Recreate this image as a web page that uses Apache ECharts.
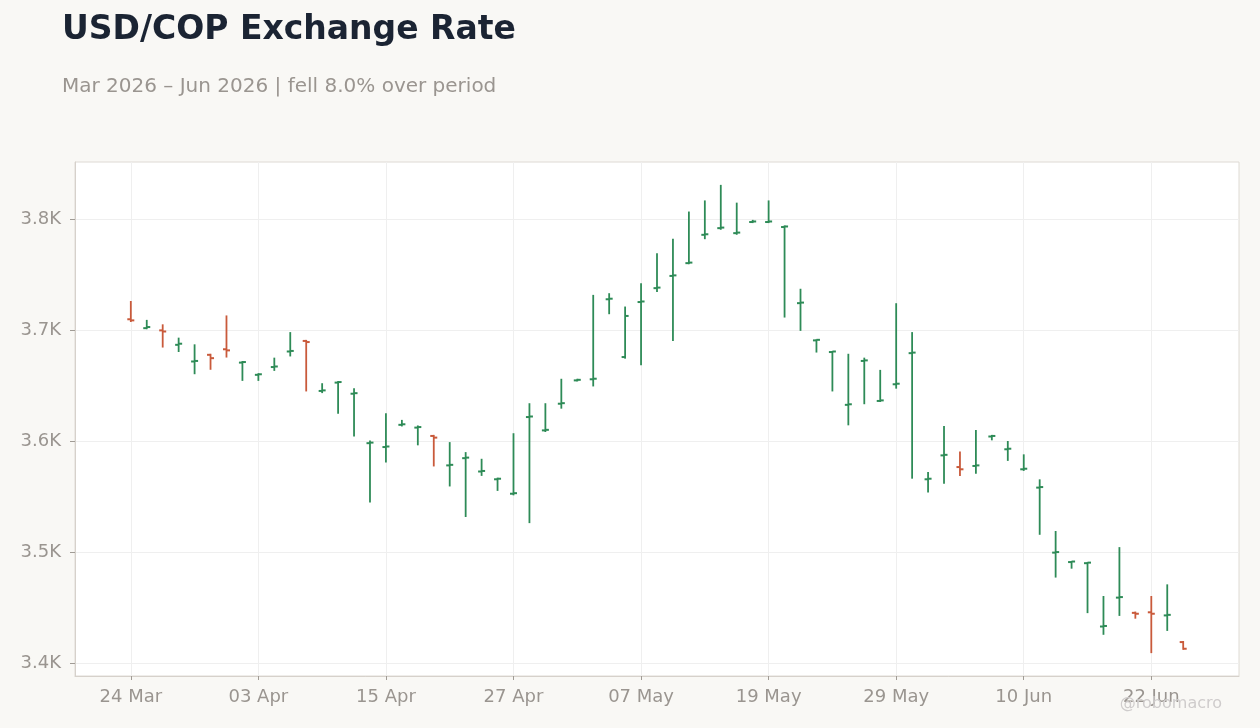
<!DOCTYPE html>
<html><head><meta charset="utf-8">
<script src="https://cdn.jsdelivr.net/npm/echarts@6/dist/echarts.min.js"></script>
<style>html,body{margin:0;padding:0;background:#f9f8f5;}#c{width:1260px;height:728px;}</style>
</head><body><div id="c"></div>
<script>
const dates = ['24 Mar','25 Mar','26 Mar','27 Mar','30 Mar','31 Mar',
 '01 Apr','02 Apr','03 Apr','06 Apr','07 Apr','08 Apr','09 Apr','10 Apr','13 Apr','14 Apr','15 Apr','16 Apr','17 Apr','20 Apr','21 Apr','22 Apr','23 Apr','24 Apr','27 Apr','28 Apr','29 Apr','30 Apr',
 '01 May','04 May','05 May','06 May','07 May','08 May','11 May','12 May','13 May','14 May','15 May','18 May','19 May','20 May','21 May','22 May','25 May','26 May','27 May','28 May','29 May',
 '01 Jun','02 Jun','03 Jun','04 Jun','05 Jun','08 Jun','09 Jun','10 Jun','11 Jun','12 Jun','15 Jun','16 Jun','17 Jun','18 Jun','19 Jun','22 Jun','23 Jun','24 Jun'];
const open  = [3710,3702,3700,3687,3672,3678,3683,3671,3660,3667,3681,3690.5,3645.5,3653,3643,3598.5,3595,3615,3612.5,3605,3578.5,3585,3573,3566,3553,3622,3610,3634,3655,3656,3728,3676,3725.5,3738,3749,3760.5,3786,3792,3787.5,3797.5,3797.5,3793,3724.5,3691,3680.5,3633,3672.5,3636.5,3651.5,3679.5,3566,3587.5,3577,3578,3604.5,3593,3575,3558.5,3500,3491.5,3490.5,3433.5,3459.5,3445.8,3446.3,3443.5,3419.5];
const high  = [3726,3709,3705,3693,3687,3678.5,3713,3672,3661,3675,3698,3691,3652,3654,3647.5,3600.5,3625,3619,3614,3605.5,3599,3590,3584,3567,3607,3634,3634,3656,3656,3731.5,3733,3721,3742,3769,3782,3806.5,3816.5,3830.5,3814.5,3799,3816.5,3794,3737,3691.5,3681,3678.5,3675,3664,3724,3698,3572,3613.5,3590.5,3610,3605.5,3600,3588,3565.5,3519,3492,3491,3460.5,3504.5,3446.5,3460.5,3471,3420];
const low   = [3708,3701.5,3685,3681,3661,3665,3676,3655,3655,3664,3677,3645.5,3644,3625.5,3605,3545.5,3581.5,3614,3597,3578,3560,3532.5,3569.5,3556,3552,3527,3609,3630,3654.5,3650,3715,3675,3669,3735,3691,3760,3782.5,3791,3786.5,3797,3797,3712,3700,3680.5,3645.5,3615,3634,3636,3648,3567,3554.5,3562.5,3569.5,3571.5,3601.5,3583,3574,3516.5,3478,3486,3446,3426.5,3443.5,3441,3410,3430,3413];
const close = [3709,3703,3699,3688,3672.5,3675,3682,3671.5,3660.5,3667.5,3681.5,3689.5,3646,3653.5,3643.5,3599,3595.5,3615.5,3613,3603.5,3579,3585.5,3573.5,3566.5,3553.5,3622.5,3610.5,3634.5,3655.5,3656.5,3728.5,3713,3726,3738.5,3749.5,3761,3786.5,3792.5,3788,3798,3798,3793.5,3725,3691.5,3681,3633.5,3673,3637,3652,3680,3566.5,3588,3575,3578.5,3605,3593.5,3575.5,3559,3500.5,3492,3491,3434,3460,3445,3445,3444,3413.5];
const yTicks = [3400, 3500, 3600, 3700, 3800];

const GREEN = '#2e8b57', RED = '#c95a3b';
const PAD = 3;
const padL = ['_p1','_p2','_p3'], padR = ['_q1','_q2','_q3'];
const cats = padL.concat(dates, padR);
const showIdx = (i) => i >= PAD && i < PAD + dates.length && (i - PAD) % 8 === 0;

const lo = Math.min(...low), hi = Math.max(...high);
const yPad = (hi - lo) * 0.05;

const seriesData = dates.map((d, i) => [d, open[i], close[i], low[i], high[i]]);

const chart = echarts.init(document.getElementById('c'), null, {renderer: 'canvas'});
chart.setOption({
  animation: false,
  backgroundColor: '#f9f8f5',
  textStyle: {fontFamily: 'DejaVu Sans'},
  title: [
    {text: 'USD/COP Exchange Rate', left: 62, top: 14, padding: 0,
     textStyle: {fontSize: 33, fontWeight: 'bold', color: '#1b2433', fontFamily: 'DejaVu Sans'}},
    {text: 'Mar 2026 \u2013 Jun 2026 | fell 8.0% over period', left: 62, top: 76.5, padding: 0,
     textStyle: {fontSize: 20, fontWeight: 'normal', color: '#9a9590', fontFamily: 'DejaVu Sans'}}
  ],
  graphic: [{
    type: 'text', x: 1222, y: 704, z: 100,
    style: {text: '@robomacro', align: 'right', verticalAlign: 'middle', fontSize: 16, fontFamily: 'DejaVu Sans', fill: '#cfcccc'}
  }],
  grid: {left: 75, right: 21, top: 162, bottom: 52, show: true, backgroundColor: '#ffffff', borderColor: '#dedad4', borderWidth: 1},
  xAxis: {
    type: 'category', data: cats, boundaryGap: true,
    axisLine: {show: true, lineStyle: {color: '#d6d1cb'}},
    axisTick: {show: true, alignWithLabel: true, interval: (i) => showIdx(i), length: 4, lineStyle: {color: '#a09b95'}},
    axisLabel: {interval: (i) => showIdx(i), color: '#9a9590', fontSize: 18, margin: 12},
    splitLine: {show: true, alignWithLabel: true, interval: (i) => showIdx(i), lineStyle: {color: '#efefef', width: 1}}
  },
  yAxis: {
    type: 'value', min: lo - yPad, max: hi + yPad, scale: true,
    axisLine: {show: true, lineStyle: {color: '#d6d1cb'}},
    axisTick: {show: true, length: 5, customValues: yTicks, lineStyle: {color: '#a09b95'}},
    axisLabel: {color: '#9a9590', fontSize: 18, margin: 14, customValues: yTicks,
      formatter: (v) => (v / 1000).toFixed(1) + 'K'},
    splitLine: {show: true, lineStyle: {color: '#efefef', width: 1}}
  },
  series: [{
    type: 'custom',
    dimensions: ['date', 'open', 'close', 'low', 'high'],
    encode: {x: 0, y: [1, 2, 3, 4]},
    data: seriesData,
    renderItem: function (params, api) {
      const x = api.value(0);
      const o = api.value(1), c = api.value(2), l = api.value(3), h = api.value(4);
      const pH = api.coord([x, h]), pL = api.coord([x, l]);
      const pO = api.coord([x, o]), pC = api.coord([x, c]);
      const col = c >= o ? GREEN : RED;
      const w = 3.5;
      return {type: 'group', children: [
        {type: 'line', shape: {x1: pH[0], y1: pH[1] - 0.5, x2: pL[0], y2: pL[1] + 0.5}, style: {stroke: col, lineWidth: 1.8}},
        {type: 'line', shape: {x1: pO[0] - w, y1: pO[1], x2: pO[0], y2: pO[1]}, style: {stroke: col, lineWidth: 2}},
        {type: 'line', shape: {x1: pC[0], y1: pC[1], x2: pC[0] + w, y2: pC[1]}, style: {stroke: col, lineWidth: 2}}
      ]};
    }
  }]
});
</script></body></html>
